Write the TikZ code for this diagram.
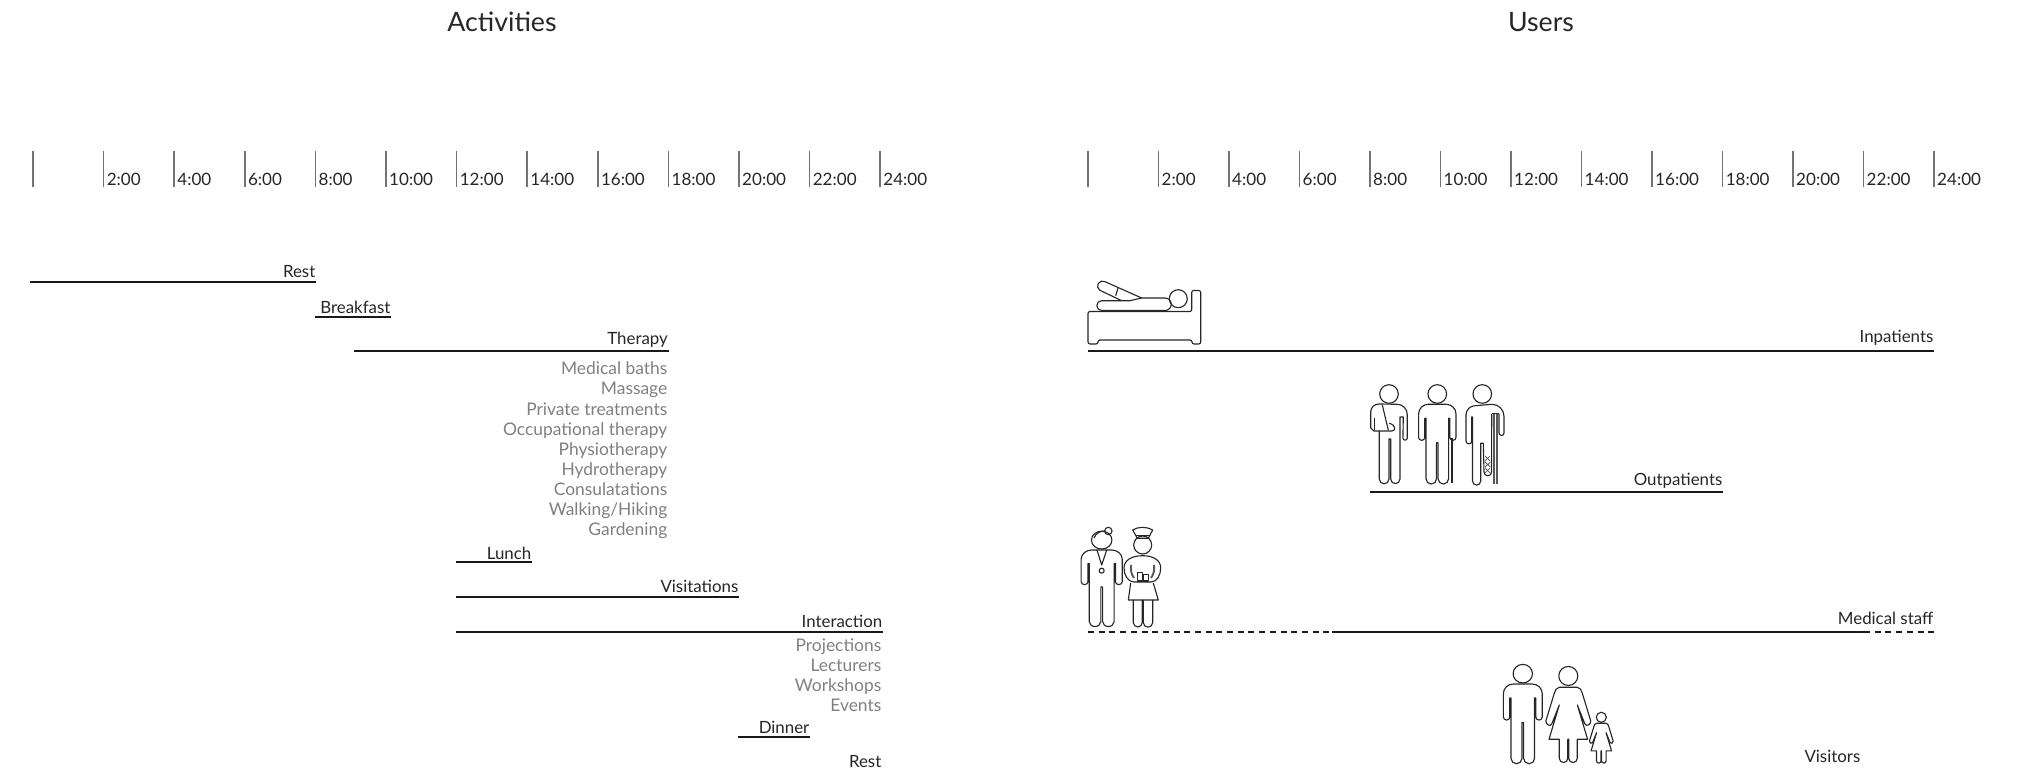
\documentclass[tikz,border=0pt]{standalone}
\usepackage{fontspec}
\setmainfont{Lato}
\tikzset{
  hourtick/.style={black!55,line width=0.42pt},
  hourtext/.style={anchor=base west,inner sep=0pt,xshift=0.025cm,yshift=0.01cm,black!85,font=\fontsize{4.85}{6}\selectfont},
  bar/.style={black!90,line width=0.38pt},
  barleft/.style={anchor=base east,inner sep=0pt,yshift=0.04cm,black!85,font=\fontsize{4.8}{6}\selectfont},
  subitem/.style={anchor=base east,inner sep=0pt,black!50,font=\fontsize{4.95}{6}\selectfont},
  heading/.style={inner sep=0pt,anchor=base,black!85,font=\fontsize{7.6}{9}\selectfont},
  figline/.style={black!85,line width=0.32pt,line join=round},
  slit/.style={black!65,line width=0.55pt},
  dashbar/.style={black!90,line width=0.38pt,dash pattern=on 0.06cm off 0.047cm},
  man/.pic={
    \draw[figline] (0,0.103) circle (0.093);
    \draw[figline] (-0.09,0) arc[start angle=90,end angle=180,radius=0.097] -- (-0.187,-0.33) arc[start angle=180,end angle=360,radius=0.031] -- (-0.125,-0.14) -- (-0.113,-0.14) -- (-0.113,-0.745) arc[start angle=180,end angle=360,radius=0.0525] -- (-0.008,-0.385) -- (0.008,-0.385) -- (0.008,-0.745) arc[start angle=180,end angle=360,radius=0.0525] -- (0.113,-0.14) -- (0.125,-0.14) -- (0.125,-0.33) arc[start angle=180,end angle=360,radius=0.031] -- (0.187,-0.097) arc[start angle=0,end angle=90,radius=0.097] -- cycle;
  },
  woman/.pic={
    \draw[figline] (0,0.113) circle (0.095);
    \draw[figline] (-0.09,0) .. controls (-0.12,0) and (-0.13,-0.03) .. (-0.14,-0.06) -- (-0.224,-0.335) .. controls (-0.23,-0.37) and (-0.18,-0.40) .. (-0.165,-0.365) -- (-0.09,-0.177) -- (-0.193,-0.52) -- (-0.09,-0.52) -- (-0.09,-0.71) arc[start angle=180,end angle=360,radius=0.0425] -- (-0.005,-0.52) -- (0.005,-0.52) -- (0.005,-0.71) arc[start angle=180,end angle=360,radius=0.0425] -- (0.09,-0.52) -- (0.193,-0.52) -- (0.09,-0.177) -- (0.165,-0.365) .. controls (0.18,-0.40) and (0.23,-0.37) .. (0.224,-0.335) -- (0.14,-0.06) .. controls (0.13,-0.03) and (0.12,0) .. (0.09,0) -- cycle;
  }
}
\begin{document}
\begin{tikzpicture}
  \useasboundingbox (0,0) rectangle (20.31,-7.69);
  \node[heading] (activities) at (5.02,-0.32) {Activities};
  \node[heading] (users) at (15.41,-0.32) {Users};

  \draw[hourtick] (0.33,-1.51) -- (0.33,-1.87);
  \draw[hourtick] (1.036,-1.51) -- (1.036,-1.87) node[hourtext] (a2) {2:00};
  \draw[hourtick] (1.742,-1.51) -- (1.742,-1.87) node[hourtext] (a4) {4:00};
  \draw[hourtick] (2.448,-1.51) -- (2.448,-1.87) node[hourtext] (a6) {6:00};
  \draw[hourtick] (3.154,-1.51) -- (3.154,-1.87) node[hourtext] (a8) {8:00};
  \draw[hourtick] (3.86,-1.51) -- (3.86,-1.87) node[hourtext] (a10) {10:00};
  \draw[hourtick] (4.566,-1.51) -- (4.566,-1.87) node[hourtext] (a12) {12:00};
  \draw[hourtick] (5.272,-1.51) -- (5.272,-1.87) node[hourtext] (a14) {14:00};
  \draw[hourtick] (5.978,-1.51) -- (5.978,-1.87) node[hourtext] (a16) {16:00};
  \draw[hourtick] (6.684,-1.51) -- (6.684,-1.87) node[hourtext] (a18) {18:00};
  \draw[hourtick] (7.39,-1.51) -- (7.39,-1.87) node[hourtext] (a20) {20:00};
  \draw[hourtick] (8.096,-1.51) -- (8.096,-1.87) node[hourtext] (a22) {22:00};
  \draw[hourtick] (8.802,-1.51) -- (8.802,-1.87) node[hourtext] (a24) {24:00};

  \draw[hourtick] (10.88,-1.51) -- (10.88,-1.87);
  \draw[hourtick] (11.585,-1.51) -- (11.585,-1.87) node[hourtext] (u2) {2:00};
  \draw[hourtick] (12.29,-1.51) -- (12.29,-1.87) node[hourtext] (u4) {4:00};
  \draw[hourtick] (12.995,-1.51) -- (12.995,-1.87) node[hourtext] (u6) {6:00};
  \draw[hourtick] (13.70,-1.51) -- (13.70,-1.87) node[hourtext] (u8) {8:00};
  \draw[hourtick] (14.405,-1.51) -- (14.405,-1.87) node[hourtext] (u10) {10:00};
  \draw[hourtick] (15.11,-1.51) -- (15.11,-1.87) node[hourtext] (u12) {12:00};
  \draw[hourtick] (15.815,-1.51) -- (15.815,-1.87) node[hourtext] (u14) {14:00};
  \draw[hourtick] (16.52,-1.51) -- (16.52,-1.87) node[hourtext] (u16) {16:00};
  \draw[hourtick] (17.225,-1.51) -- (17.225,-1.87) node[hourtext] (u18) {18:00};
  \draw[hourtick] (17.93,-1.51) -- (17.93,-1.87) node[hourtext] (u20) {20:00};
  \draw[hourtick] (18.635,-1.51) -- (18.635,-1.87) node[hourtext] (u22) {22:00};
  \draw[hourtick] (19.34,-1.51) -- (19.34,-1.87) node[hourtext] (u24) {24:00};

  \draw[bar] (0.30,-2.82) -- (3.16,-2.82) node[barleft] (rest) {Rest};
  \draw[bar] (3.15,-3.17) -- (3.91,-3.17) node[barleft,yshift=-0.01cm] (breakfast) {Breakfast};
  \draw[bar] (3.54,-3.51) -- (6.685,-3.51) node[barleft,yshift=0.025cm] (therapy) {Therapy};
  \node[subitem] (baths) at (6.68,-3.75) {Medical baths};
  \node[subitem] (massage) at (6.68,-3.95) {Massage};
  \node[subitem] (private) at (6.68,-4.155) {Private treatments};
  \node[subitem] (occupational) at (6.68,-4.355) {Occupational therapy};
  \node[subitem] (physio) at (6.68,-4.555) {Physiotherapy};
  \node[subitem] (hydro) at (6.68,-4.755) {Hydrotherapy};
  \node[subitem] (consul) at (6.68,-4.955) {Consulatations};
  \node[subitem] (walking) at (6.68,-5.16) {Walking/Hiking};
  \node[subitem] (gardening) at (6.68,-5.36) {Gardening};
  \draw[bar] (4.56,-5.62) -- (5.32,-5.62) node[barleft,yshift=-0.02cm] (lunch) {Lunch};
  \draw[bar] (4.56,-5.97) -- (7.39,-5.97) node[barleft] (visitations) {Visitations};
  \draw[bar] (4.56,-6.32) -- (8.83,-6.32) node[barleft] (interaction) {Interaction};
  \node[subitem] (projections) at (8.82,-6.52) {Projections};
  \node[subitem] (lecturers) at (8.82,-6.72) {Lecturers};
  \node[subitem] (workshops) at (8.82,-6.92) {Workshops};
  \node[subitem] (events) at (8.82,-7.12) {Events};
  \draw[bar] (7.38,-7.37) -- (8.10,-7.37) node[barleft,yshift=-0.01cm] (dinner) {Dinner};
  \node[barleft] (restend) at (8.82,-7.72) {Rest};

  \draw[bar] (10.88,-3.51) -- (19.34,-3.51) node[barleft,yshift=0.045cm] (inpatients) {Inpatients};
  \draw[bar] (13.70,-4.92) -- (17.23,-4.92) node[barleft,yshift=0.025cm] (outpatients) {Outpatients};
  \draw[dashbar] (10.88,-6.32) -- (13.33,-6.32);
  \draw[bar] (13.32,-6.32) -- (18.64,-6.32);
  \draw[dashbar] (18.64,-6.32) -- (19.35,-6.32);
  \node[barleft] (staff) at (19.34,-6.285) {Medical staff};
  \node[barleft] (visitors) at (18.61,-7.665) {Visitors};

  \draw[figline,rounded corners=0.02cm] (10.92,-3.115) -- (11.917,-3.115) -- (11.917,-2.905) -- (12.007,-2.905) -- (12.007,-3.44) -- (11.92,-3.44) -- (11.92,-3.40) -- (10.98,-3.40) -- (10.98,-3.44) -- (10.88,-3.44) -- (10.88,-3.115) -- cycle;
  \draw[figline] (11.783,-2.987) circle (0.09);
  \draw[figline] (11.417,-2.98) -- (11.65,-2.98) arc[start angle=90,end angle=-90,radius=0.0625] -- (11.017,-3.105) arc[start angle=270,end angle=90,radius=0.049] -- (11.30,-3.007) -- cycle;
  \draw[figline] (11.417,-2.98) -- (11.05,-2.817) arc[start angle=60,end angle=240,radius=0.05] -- (11.217,-3.007);
  \draw[figline] (11.18,-2.88) -- (11.157,-2.957);

  \draw[figline] (13.89,-3.94) circle (0.093);
  \draw[figline] (13.707,-4.12) arc[start angle=180,end angle=90,radius=0.08] -- (13.97,-4.043) arc[start angle=90,end angle=0,radius=0.103] -- (14.073,-4.38) arc[start angle=0,end angle=-180,radius=0.022] -- (14.033,-4.17) -- (14.00,-4.17) -- (14.00,-4.79) arc[start angle=0,end angle=-180,radius=0.0465] -- (13.907,-4.39) -- (13.89,-4.39) -- (13.89,-4.79) arc[start angle=0,end angle=-180,radius=0.0485] -- (13.793,-4.31);
  \draw[figline] (13.707,-4.12) -- (13.707,-4.28) -- (13.74,-4.31) -- (13.92,-4.31) .. controls (13.96,-4.31) and (13.96,-4.25) .. (13.893,-4.233);
  \draw[figline] (13.823,-4.05) -- (13.883,-4.30);
  \draw[figline] (13.745,-4.18) -- (13.745,-4.30);
  \pic at (14.373,-4.043) {man};
  \draw[black!85,line width=0.6pt] (14.517,-4.377) -- (14.517,-4.827);
  \draw[figline] (14.823,-3.94) circle (0.093);
  \draw[figline] (14.66,-4.15) arc[start angle=180,end angle=90,radius=0.093] -- (14.92,-4.043) arc[start angle=90,end angle=0,radius=0.12] -- (15.04,-4.33) arc[start angle=0,end angle=-180,radius=0.025] -- (14.99,-4.14);
  \draw[figline] (14.66,-4.15) -- (14.66,-4.41) arc[start angle=180,end angle=360,radius=0.029] -- (14.717,-4.17) -- (14.725,-4.17) -- (14.725,-4.81) arc[start angle=180,end angle=360,radius=0.041] -- (14.807,-4.433) -- (14.833,-4.433) -- (14.84,-4.72) arc[start angle=180,end angle=360,radius=0.038] -- (14.917,-4.14);
  \draw[slit] (14.94,-4.14) -- (14.94,-4.84) (14.97,-4.14) -- (14.97,-4.84);
  \draw[black!85,line width=0.5pt] (14.917,-4.135) -- (14.99,-4.135);
  \draw[black!70,line width=0.2pt] (14.85,-4.56) -- (14.90,-4.61) (14.85,-4.62) -- (14.905,-4.67) (14.85,-4.68) -- (14.90,-4.73) (14.90,-4.56) -- (14.85,-4.61) (14.905,-4.62) -- (14.85,-4.67) (14.90,-4.68) -- (14.85,-4.73);

  \pic[xscale=1.1,yscale=0.96] at (11.017,-5.50) {man};
  \draw[figline] (11.083,-5.31) circle (0.037);
  \draw[figline] (10.94,-5.38) .. controls (10.96,-5.33) and (11.00,-5.31) .. (11.05,-5.31);
  \draw[figline] (10.97,-5.50) -- (11.017,-5.65) -- (11.067,-5.50);
  \draw[figline] (11.017,-5.707) circle (0.025);

  \draw[figline] (11.427,-5.45) circle (0.09);
  \draw[figline] (11.327,-5.30) .. controls (11.38,-5.265) and (11.47,-5.265) .. (11.527,-5.30) -- (11.483,-5.383) -- (11.373,-5.383) -- cycle;
  \draw[figline] (11.355,-5.355) -- (11.50,-5.355);
  \draw[figline] (11.34,-5.82) .. controls (11.28,-5.82) and (11.24,-5.75) .. (11.24,-5.68) .. controls (11.24,-5.60) and (11.32,-5.557) .. (11.427,-5.557) .. controls (11.53,-5.557) and (11.607,-5.60) .. (11.607,-5.68) .. controls (11.607,-5.75) and (11.57,-5.82) .. (11.51,-5.82) -- cycle;
  \draw[slit] (11.34,-5.78) .. controls (11.31,-5.74) and (11.307,-5.70) .. (11.31,-5.65);
  \draw[slit] (11.51,-5.78) .. controls (11.54,-5.74) and (11.545,-5.70) .. (11.54,-5.65);
  \draw[figline] (11.373,-5.81) rectangle (11.427,-5.723);
  \draw[figline] (11.433,-5.81) rectangle (11.483,-5.743);
  \draw[figline] (11.307,-5.83) -- (11.283,-6.00) -- (11.583,-6.00) -- (11.533,-5.83);
  \draw[figline] (11.333,-6.00) -- (11.333,-6.225) arc[start angle=180,end angle=360,radius=0.045] -- (11.423,-6.00);
  \draw[figline] (11.433,-6.00) -- (11.433,-6.225) arc[start angle=180,end angle=360,radius=0.047] -- (11.527,-6.00);

  \pic[xscale=1.04] at (15.228,-6.84) {man};
  \pic at (15.683,-6.873) {woman};
  \pic[scale=0.53] at (16.013,-7.233) {woman};
\end{tikzpicture}
\end{document}
